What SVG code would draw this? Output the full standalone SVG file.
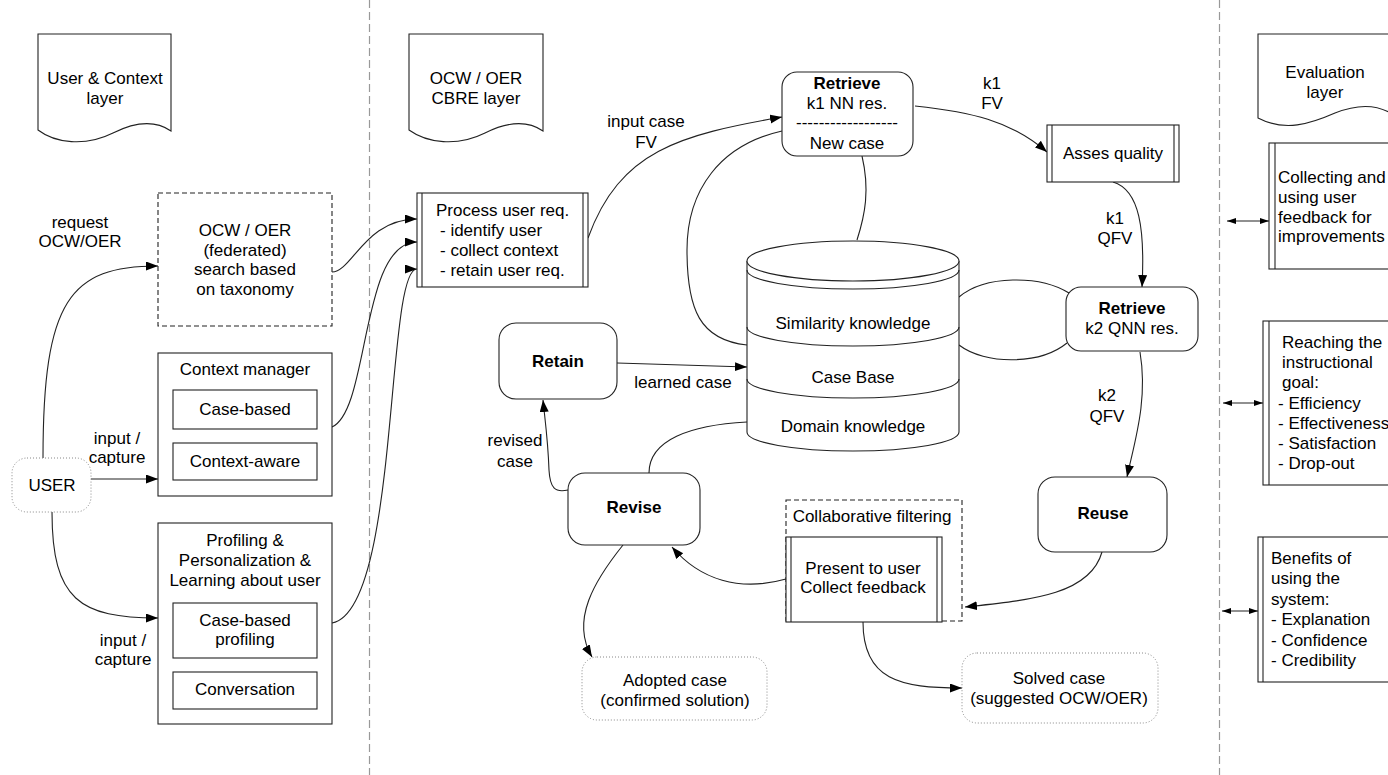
<svg xmlns="http://www.w3.org/2000/svg" width="1388" height="775" viewBox="0 0 1388 775">
<defs>
<marker id="arr" markerUnits="userSpaceOnUse" markerWidth="13" markerHeight="10" refX="12" refY="4.5" orient="auto"><path d="M0,0 L12,4.5 L0,9 z" fill="#000"/></marker>
<marker id="sarr" markerUnits="userSpaceOnUse" markerWidth="10" markerHeight="8" refX="9" refY="3" orient="auto-start-reverse"><path d="M0,0 L9,3 L0,6 z" fill="#000"/></marker>
</defs>
<style>
text{font-family:"Liberation Sans",Arial,sans-serif;font-size:17px;fill:#000}
.c{text-anchor:middle}
.b{font-weight:bold}
.box{fill:#fff;stroke:#222;stroke-width:1.1}
.dash{fill:#fff;stroke:#222;stroke-width:1.1;stroke-dasharray:5,3}
.dot{fill:#fff;stroke:#888;stroke-width:1;stroke-dasharray:1,2}
.ln{fill:none;stroke:#222;stroke-width:1.1}
.arw{fill:none;stroke:#222;stroke-width:1.1;marker-end:url(#arr)}
.dbl{fill:none;stroke:#222;stroke-width:1.1;marker-start:url(#sarr);marker-end:url(#sarr)}
.sep{stroke:#999;stroke-width:1.2;stroke-dasharray:8,4}
</style>
<rect x="0" y="0" width="1388" height="775" fill="#fff"/>
<g id="separators">
<line class="sep" x1="369.5" y1="0" x2="369.5" y2="775"/>
<line class="sep" x1="1219.5" y1="0" x2="1219.5" y2="775"/>
</g>
<g id="connectors">
<path class="arw" d="M43,458 C43,300 70,266 158,266"/>
<path class="arw" d="M91,479 L158,479"/>
<path class="arw" d="M52,512 C52,600 80,618 158,618"/>
<path class="arw" d="M332,272 C352,272 365,219 417,219"/>
<path class="arw" d="M332,427 C370,410 360,242 417,242"/>
<path class="arw" d="M332,623 C400,610 385,269 417,269"/>
<path class="arw" d="M588,238 C620,150 680,135 782,117"/>
<path class="ln" d="M782,131 C720,145 687,190 687,250 C687,310 700,340 747,345"/>
<path class="ln" d="M862,156 C870,190 865,215 857,240"/>
<path class="arw" d="M915,106 C970,112 1010,120 1047,152"/>
<path class="arw" d="M1113,182 C1140,190 1145,230 1142,287"/>
<path class="ln" d="M959,297 C985,275 1040,275 1069,293"/>
<path class="ln" d="M959,345 C985,365 1040,365 1067,343"/>
<path class="arw" d="M1140,352 C1148,400 1135,440 1127,477"/>
<path class="arw" d="M1102,552 C1090,595 1030,600 965,607"/>
<path class="arw" d="M863,622 C863,680 900,688 962,688"/>
<path class="arw" d="M786,579 C740,592 700,580 672,547"/>
<path class="arw" d="M623,545 C595,580 570,620 592,657"/>
<path class="ln" d="M649,473 C649,440 690,425 747,422"/>
<path class="arw" d="M568,490 C555,493 550,488 549,470 C548,440 545,420 543,400"/>
<path class="arw" d="M617,363 L747,367"/>
<path class="dbl" d="M1227,221 L1269,221"/>
<path class="dbl" d="M1223,403 L1263,403"/>
<path class="dbl" d="M1222,611 L1258,611"/>
</g>
<g id="labels">
<text class="c" x="80" y="228">request</text>
<text class="c" x="80" y="247">OCW/OER</text>
<text class="c" x="117" y="444">input /</text>
<text class="c" x="117" y="463">capture</text>
<text class="c" x="123" y="646">input /</text>
<text class="c" x="123" y="665">capture</text>
<text class="c" x="646" y="127">input case</text>
<text class="c" x="646" y="148">FV</text>
<text class="c" x="992" y="89">k1</text>
<text class="c" x="992" y="109">FV</text>
<text class="c" x="1115" y="224">k1</text>
<text class="c" x="1115" y="244">QFV</text>
<text class="c" x="1107" y="401">k2</text>
<text class="c" x="1107" y="422">QFV</text>
<text class="c" x="683" y="388">learned case</text>
<text class="c" x="515" y="446">revised</text>
<text class="c" x="515" y="467">case</text>
</g>
<g id="doc-user-context">
<path class="box" d="M38,34 H171 V131 C155,120 135,122 113,133 C85,147 55,143 38,130 Z"/>
<text class="c" x="105" y="84">User &amp; Context</text>
<text class="c" x="105" y="104">layer</text>
</g>
<g id="doc-cbre">
<path class="box" d="M409,34 H543 V131 C527,120 507,122 485,133 C457,147 427,143 409,130 Z"/>
<text class="c" x="476" y="84">OCW / OER</text>
<text class="c" x="476" y="104">CBRE layer</text>
</g>
<g id="doc-evaluation">
<path class="box" d="M1258,34 H1395 V116 C1380,105 1360,103 1335,113 C1310,124 1285,132 1258,118 Z"/>
<text class="c" x="1325" y="78">Evaluation</text>
<text class="c" x="1325" y="98">layer</text>
</g>
<g id="ocw-search">
<rect class="dash" x="158" y="193" width="174" height="133"/>
<text class="c" x="245" y="236">OCW / OER</text>
<text class="c" x="245" y="256">(federated)</text>
<text class="c" x="245" y="275">search based</text>
<text class="c" x="245" y="295">on taxonomy</text>
</g>
<g id="context-manager">
<rect class="box" x="158" y="353" width="174" height="143"/>
<text class="c" x="245" y="375">Context manager</text>
<rect class="box" x="173" y="390" width="144" height="39"/>
<text class="c" x="245" y="415">Case-based</text>
<rect class="box" x="173" y="443" width="144" height="37"/>
<text class="c" x="245" y="467">Context-aware</text>
</g>
<g id="profiling">
<rect class="box" x="158" y="523" width="174" height="201"/>
<text class="c" x="245" y="546">Profiling &amp;</text>
<text class="c" x="245" y="566">Personalization &amp;</text>
<text class="c" x="245" y="586">Learning about user</text>
<rect class="box" x="173" y="603" width="144" height="55"/>
<text class="c" x="245" y="626">Case-based</text>
<text class="c" x="245" y="645">profiling</text>
<rect class="box" x="173" y="672" width="144" height="37"/>
<text class="c" x="245" y="695">Conversation</text>
</g>
<g id="user">
<rect class="dot" x="12" y="458" width="79" height="54" rx="15"/>
<text class="c" x="52" y="491">USER</text>
</g>
<g id="process-user-req">
<rect class="box" x="417" y="193" width="171" height="94"/>
<line class="ln" x1="422" y1="193" x2="422" y2="287"/>
<line class="ln" x1="583" y1="193" x2="583" y2="287"/>
<text x="436" y="216">Process user req.</text>
<text x="440" y="236">- identify user</text>
<text x="440" y="256">- collect context</text>
<text x="440" y="276">- retain user req.</text>
</g>
<g id="retrieve-k1">
<rect class="box" x="782" y="72" width="131" height="84" rx="15"/>
<text class="c b" x="847" y="89">Retrieve</text>
<text class="c" x="847" y="109">k1 NN res.</text>
<text class="c" x="847" y="128">------------------</text>
<text class="c" x="847" y="149">New case</text>
</g>
<g id="asses-quality">
<rect class="box" x="1047" y="125" width="132" height="57"/>
<line class="ln" x1="1052" y1="125" x2="1052" y2="182"/>
<line class="ln" x1="1174" y1="125" x2="1174" y2="182"/>
<text class="c" x="1113" y="159">Asses quality</text>
</g>
<g id="retrieve-k2">
<rect class="box" x="1066" y="287" width="132" height="64" rx="15"/>
<text class="c b" x="1132" y="314">Retrieve</text>
<text class="c" x="1132" y="334">k2 QNN res.</text>
</g>
<g id="case-base">
<path class="box" d="M747,261 V432 A106,19 0 0 0 959,432 V261"/>
<ellipse class="box" cx="853" cy="261" rx="106" ry="20"/>
<path class="ln" d="M747,270 A106,19 0 0 0 959,270"/>
<path class="ln" d="M747,327 A106,19 0 0 0 959,327"/>
<path class="ln" d="M747,379 A106,19 0 0 0 959,379"/>
<text class="c" x="853" y="329">Similarity knowledge</text>
<text class="c" x="853" y="383">Case Base</text>
<text class="c" x="853" y="432">Domain knowledge</text>
</g>
<g id="retain">
<rect class="box" x="499" y="323" width="118" height="76" rx="17"/>
<text class="c b" x="558" y="367">Retain</text>
</g>
<g id="revise">
<rect class="box" x="568" y="473" width="132" height="72" rx="17"/>
<text class="c b" x="634" y="513">Revise</text>
</g>
<g id="reuse">
<rect class="box" x="1038" y="477" width="129" height="75" rx="17"/>
<text class="c b" x="1103" y="519">Reuse</text>
</g>
<g id="collaborative-filtering">
<rect class="dash" x="786" y="500" width="176" height="121"/>
<text class="c" x="872" y="522">Collaborative filtering</text>
<rect class="box" x="786" y="537" width="156" height="85"/>
<line class="ln" x1="791" y1="537" x2="791" y2="622"/>
<line class="ln" x1="937" y1="537" x2="937" y2="622"/>
<text class="c" x="863" y="574">Present to user</text>
<text class="c" x="863" y="593">Collect feedback</text>
</g>
<g id="adopted-case">
<rect class="dot" x="582" y="657" width="185" height="63" rx="15"/>
<text class="c" x="675" y="686">Adopted case</text>
<text class="c" x="675" y="706">(confirmed solution)</text>
</g>
<g id="solved-case">
<rect class="dot" x="962" y="653" width="196" height="70" rx="15"/>
<text class="c" x="1059" y="684">Solved case</text>
<text class="c" x="1059" y="704">(suggested OCW/OER)</text>
</g>
<g id="eval-feedback">
<rect class="box" x="1269" y="143" width="130" height="126"/>
<line class="ln" x1="1275" y1="143" x2="1275" y2="269"/>
<text x="1278" y="183">Collecting and</text>
<text x="1278" y="203">using user</text>
<text x="1278" y="223">feedback for</text>
<text x="1278" y="242">improvements</text>
</g>
<g id="eval-goal">
<rect class="box" x="1263" y="321" width="136" height="164"/>
<line class="ln" x1="1269" y1="321" x2="1269" y2="485"/>
<text x="1282" y="348">Reaching the</text>
<text x="1282" y="368">instructional</text>
<text x="1282" y="388">goal:</text>
<text x="1278" y="409">- Efficiency</text>
<text x="1278" y="429">- Effectiveness</text>
<text x="1278" y="449">- Satisfaction</text>
<text x="1278" y="469">- Drop-out</text>
</g>
<g id="eval-benefits">
<rect class="box" x="1258" y="537" width="141" height="145"/>
<line class="ln" x1="1263" y1="537" x2="1263" y2="682"/>
<text x="1271" y="564">Benefits of</text>
<text x="1271" y="584">using the</text>
<text x="1271" y="605">system:</text>
<text x="1271" y="625">- Explanation</text>
<text x="1271" y="646">- Confidence</text>
<text x="1271" y="666">- Credibility</text>
</g>
</svg>
